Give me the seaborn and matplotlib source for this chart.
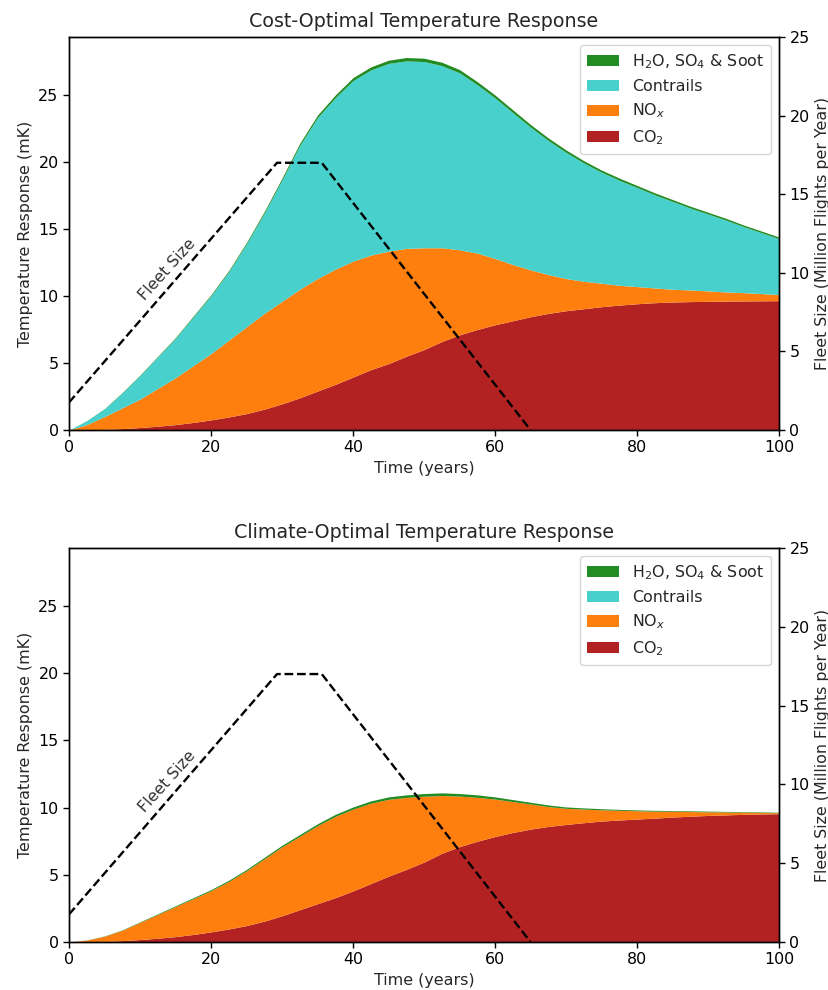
import numpy as np
import matplotlib
matplotlib.use("Agg")
import matplotlib.pyplot as plt
import seaborn as sns
import pandas as pd

# ---------------- data ----------------
years = [0, 2.5, 5, 7.5, 10, 12.5, 15, 17.5, 20, 22.5, 25, 27.5, 30, 32.5, 35, 37.5,
         40, 42.5, 45, 47.5, 50, 52.5, 55, 57.5, 60, 62.5, 65, 67.5, 70, 72.5, 75,
         77.5, 80, 82.5, 85, 87.5, 90, 92.5, 95, 97.5, 100]

# Cost-optimal: upper boundaries of the stacked layers (mK)
cost_co2_top = [0, 0.01, 0.04, 0.1, 0.18, 0.28, 0.4, 0.56, 0.75, 0.97, 1.22, 1.55, 1.95,
                2.4, 2.9, 3.4, 3.95, 4.5, 4.95, 5.5, 6.0, 6.6, 7.1, 7.5, 7.85, 8.15, 8.45,
                8.7, 8.9, 9.05, 9.2, 9.32, 9.42, 9.5, 9.55, 9.58, 9.6, 9.62, 9.63, 9.64, 9.65]
cost_nox_top = [0, 0.4, 1.0, 1.65, 2.3, 3.1, 3.9, 4.8, 5.7, 6.7, 7.7, 8.7, 9.6, 10.5, 11.3,
                12.0, 12.6, 13.05, 13.35, 13.55, 13.6, 13.6, 13.45, 13.2, 12.8, 12.35,
                11.95, 11.6, 11.3, 11.1, 10.95, 10.8, 10.7, 10.6, 10.5, 10.45, 10.38,
                10.3, 10.25, 10.18, 10.1]
cost_total_top = [0, 0.7, 1.6, 2.8, 4.1, 5.5, 6.9, 8.5, 10.1, 11.9, 14.0, 16.3, 18.8, 21.4,
                  23.5, 25.0, 26.3, 27.1, 27.6, 27.8, 27.75, 27.45, 26.9, 26.0, 25.0, 23.9,
                  22.8, 21.8, 20.9, 20.1, 19.4, 18.8, 18.25, 17.7, 17.2, 16.7, 16.25, 15.8,
                  15.3, 14.85, 14.4]
cost_h2o = [0, 0.01, 0.02, 0.03, 0.04, 0.05, 0.06, 0.07, 0.08, 0.09, 0.10, 0.12, 0.14, 0.16,
            0.18, 0.20, 0.22, 0.23, 0.24, 0.25, 0.25, 0.25, 0.24, 0.23, 0.22, 0.21, 0.20,
            0.19, 0.18, 0.17, 0.16, 0.16, 0.15, 0.15, 0.14, 0.14, 0.13, 0.13, 0.12, 0.12, 0.12]

# Climate-optimal: upper boundaries of the stacked layers (mK)
clim_co2_top = [0, 0.01, 0.04, 0.1, 0.18, 0.28, 0.4, 0.56, 0.75, 0.97, 1.22, 1.55, 1.95,
                2.4, 2.85, 3.3, 3.8, 4.35, 4.9, 5.4, 5.95, 6.6, 7.1, 7.5, 7.85, 8.15, 8.4,
                8.6, 8.75, 8.88, 9.0, 9.08, 9.15, 9.22, 9.3, 9.36, 9.42, 9.46, 9.5, 9.53, 9.55]
clim_total_top = [0, 0.15, 0.45, 0.9, 1.5, 2.1, 2.7, 3.3, 3.9, 4.6, 5.4, 6.3, 7.2, 8.0, 8.8,
                  9.5, 10.05, 10.5, 10.8, 10.95, 11.05, 11.1, 11.05, 10.95, 10.8, 10.6,
                  10.4, 10.2, 10.05, 9.98, 9.92, 9.87, 9.83, 9.8, 9.78, 9.76, 9.74, 9.72,
                  9.7, 9.68, 9.66]
clim_contrails = [0.0] * len(years)
clim_h2o = [0, 0.01, 0.02, 0.03, 0.04, 0.05, 0.06, 0.07, 0.08, 0.09, 0.10, 0.11, 0.12, 0.13,
            0.14, 0.15, 0.16, 0.17, 0.18, 0.19, 0.2, 0.2, 0.19, 0.18, 0.16, 0.15, 0.13,
            0.12, 0.1, 0.09, 0.08, 0.07, 0.06, 0.06, 0.05, 0.05, 0.05, 0.04, 0.04, 0.04, 0.04]

fleet_years = [0, 29.3, 35.6, 65]
fleet_size = [1.75, 17, 17, 0]

labels = [r'CO$_2$', r'NO$_x$', 'Contrails', r'H$_2$O, SO$_4$ & Soot']
colors = ['#B22222', '#FF7F0E', '#48D1CC', '#228B22']
titles = ['Cost-Optimal Temperature Response', 'Climate-Optimal Temperature Response']

# ---------------- build stacked components ----------------
co2_c = np.array(cost_co2_top)
nox_c = np.array(cost_nox_top) - co2_c
h2o_c = np.array(cost_h2o)
con_c = np.array(cost_total_top) - h2o_c - np.array(cost_nox_top)

co2_k = np.array(clim_co2_top)
h2o_k = np.array(clim_h2o)
con_k = np.array(clim_contrails)
nox_k = np.array(clim_total_top) - h2o_k - con_k - co2_k

panels = [[co2_c, nox_c, con_c, h2o_c], [co2_k, nox_k, con_k, h2o_k]]

sns.set_style("ticks")
plt.rcParams['font.family'] = ['DejaVu Sans']

FS = 11.4
fig = plt.figure(figsize=(8.29, 9.9), dpi=100)
axes_pos = [[0.0832, 0.5657, 0.8565, 0.3969], [0.0832, 0.0485, 0.8565, 0.3980]]

fleet_df = pd.DataFrame({'Time': fleet_years, 'Fleet': fleet_size})

for pos, layers, title in zip(axes_pos, panels, titles):
    ax = fig.add_axes(pos)
    ax.stackplot(years, *layers, labels=labels, colors=colors, linewidth=0)
    ax.set_xlim(0, 100)
    ax.set_ylim(0, 29.33)
    ax.set_yticks([0, 5, 10, 15, 20, 25])
    ax.set_xticks([0, 20, 40, 60, 80, 100])
    ax.set_xlabel('Time (years)', fontsize=FS)
    ax.set_ylabel('Temperature Response (mK)', fontsize=FS)
    ax.set_title(title, fontsize=13.7, pad=7)
    for s in ax.spines.values():
        s.set_color('black')
        s.set_linewidth(1.0)
    ax.tick_params(colors='black', length=4, width=1, direction='out', labelsize=FS)
    h, l = ax.get_legend_handles_labels()
    ax.legend(h[::-1], l[::-1], loc='upper right', fontsize=FS, frameon=True,
              handlelength=2.0, borderpad=0.45, labelspacing=0.5)

    ax2 = ax.twinx()
    sns.lineplot(data=fleet_df, x='Time', y='Fleet', ax=ax2, color='black',
                 linestyle='--', linewidth=1.7)
    ax2.set_ylim(0, 25)
    ax2.set_xlim(0, 100)
    ax2.set_yticks([0, 5, 10, 15, 20, 25])
    ax2.set_ylabel('Fleet Size (Million Flights per Year)', fontsize=FS)
    ax2.set_xlabel('')
    ax2.tick_params(colors='black', length=4, width=1, labelsize=FS)
    for s in ax2.spines.values():
        s.set_color('black')
        s.set_linewidth(1.0)
    ax2.text(13.9, 10.2, 'Fleet Size', rotation=48, ha='center', va='center',
             fontsize=FS, color='#333333', rotation_mode='anchor')

fig.savefig('out.png', dpi=100)
